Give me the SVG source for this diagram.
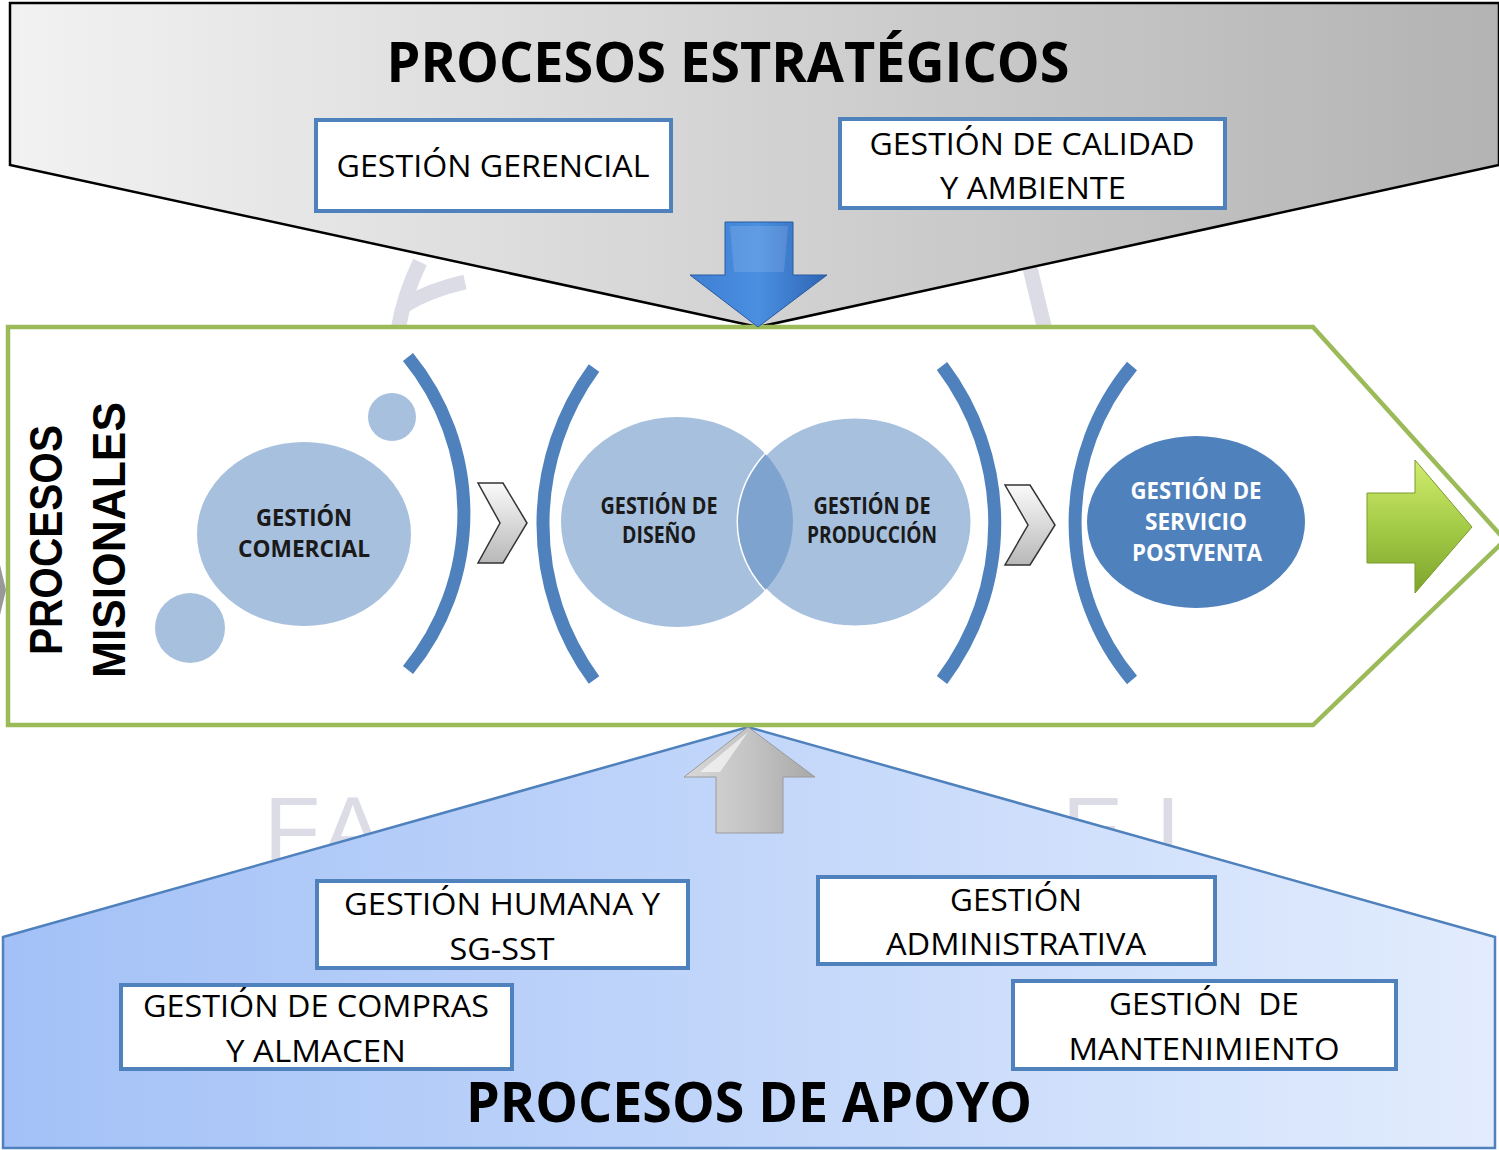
<svg xmlns="http://www.w3.org/2000/svg" width="1499" height="1150" viewBox="0 0 1499 1150">
<defs>
<linearGradient id="gTop" x1="0" y1="0" x2="1" y2="0"><stop offset="0" stop-color="#f2f2f2"/><stop offset="1" stop-color="#b3b3b3"/></linearGradient>
<linearGradient id="gBot" x1="0" y1="0" x2="1" y2="0"><stop offset="0" stop-color="#a3c1f7"/><stop offset="1" stop-color="#e2ecfd"/></linearGradient>
<linearGradient id="gBlue" x1="0" y1="0" x2="1" y2="0"><stop offset="0" stop-color="#3f7fd4"/><stop offset="0.5" stop-color="#4a8fe0"/><stop offset="1" stop-color="#2f65b5"/></linearGradient>
<linearGradient id="gGrey" x1="0" y1="0" x2="1" y2="0"><stop offset="0" stop-color="#d8d8d8"/><stop offset="0.5" stop-color="#c4c4c4"/><stop offset="1" stop-color="#a8a8a8"/></linearGradient>
<linearGradient id="gGreen" x1="0" y1="0" x2="0" y2="1"><stop offset="0" stop-color="#d2ec6e"/><stop offset="0.5" stop-color="#a4cc47"/><stop offset="1" stop-color="#7ea32c"/></linearGradient>
<linearGradient id="gChev" x1="0" y1="0" x2="0" y2="1"><stop offset="0" stop-color="#fafafa"/><stop offset="1" stop-color="#b8b8b8"/></linearGradient>
<clipPath id="clipDis"><ellipse cx="677" cy="522" rx="116" ry="105"/></clipPath>
</defs>
<style>
.box{fill:#fff;stroke:#4f81bd;stroke-width:4}
.bt{font-family:"Open Sans","Liberation Sans",sans-serif;font-size:31px;fill:#000;text-anchor:middle}
.title{font-family:"Open Sans","Liberation Sans",sans-serif;font-size:56px;font-weight:bold;fill:#000;text-anchor:middle}
.et{font-family:"Open Sans","Liberation Sans",sans-serif;font-size:23px;font-weight:bold;fill:#1a1a1a;text-anchor:middle}
.wt{fill:#fff}
.brk{fill:none;stroke:#4f81bd;stroke-width:13}
.chev{fill:url(#gChev);stroke:#333;stroke-width:1.5}
.wm{fill:none;stroke:#dcdce6;stroke-width:15}
.wl{font-family:"Liberation Sans",sans-serif;font-size:92px;fill:#dcdce6}
</style>
<rect width="1499" height="1150" fill="#fff"/>
<g id="watermark">
<path class="wm" d="M398,330 Q404,295 420,262"/>
<path class="wm" d="M405,305 Q430,290 465,282"/>
<path class="wm" d="M1045,330 L1030,268"/>
<text class="wl" x="264" y="862">F</text>
<text class="wl" x="322" y="862">A</text>
<text class="wl" x="1062" y="862">E</text>
<text class="wl" x="1156" y="862">L</text>
</g>
<g id="estrategicos">
<path d="M10,3 L1499,3 L1499,165 L758,327 L10,165 Z" fill="url(#gTop)" stroke="#000" stroke-width="2.5"/>
<text class="title" x="728" y="82" textLength="683" lengthAdjust="spacingAndGlyphs">PROCESOS ESTRATÉGICOS</text>
</g>
<g id="gerencial">
<rect class="box" x="316" y="120" width="355" height="91"/>
<text class="bt" x="493" y="177" textLength="313" lengthAdjust="spacingAndGlyphs">GESTIÓN GERENCIAL</text>
</g>
<g id="calidad">
<rect class="box" x="840" y="119" width="385" height="89"/>
<text class="bt" x="1032" y="155" textLength="325" lengthAdjust="spacingAndGlyphs">GESTIÓN DE CALIDAD</text>
<text class="bt" x="1033" y="199" textLength="186" lengthAdjust="spacingAndGlyphs">Y AMBIENTE</text>
</g>
<g id="apoyo">
<path d="M3,937 L748,727 L1495,937 L1495,1148 L3,1148 Z" fill="url(#gBot)" stroke="#4f81bd" stroke-width="2.5"/>
<text class="title" x="749" y="1122" textLength="566" lengthAdjust="spacingAndGlyphs">PROCESOS DE APOYO</text>
</g>
<g id="misionales">
<path d="M8,327 L1313,327 L1505,540 L1313,725 L8,725 Z" fill="#fff" stroke="#9bbb59" stroke-width="4.5"/>
<path d="M0,565 L6,590 L0,615 Z" fill="#999"/>
<text font-family="Liberation Sans,sans-serif" font-size="46" font-weight="bold" text-anchor="middle" transform="translate(62,540) rotate(-90)" textLength="230" lengthAdjust="spacingAndGlyphs">PROCESOS</text>
<text font-family="Liberation Sans,sans-serif" font-size="46" font-weight="bold" text-anchor="middle" transform="translate(125,540) rotate(-90)" textLength="276" lengthAdjust="spacingAndGlyphs">MISIONALES</text>
</g>
<g id="arrows">
<path d="M725,222 L793,222 L793,275 L827,275 L758,327 L690,275 L725,275 Z" fill="url(#gBlue)" stroke="#2a5a9e" stroke-width="1"/>
<path d="M730,226 L788,226 L784,272 L734,272 Z" fill="#fff" opacity="0.12"/>
<path d="M748,727 L815,777 L783,777 L783,833 L716,833 L716,777 L684,777 Z" fill="url(#gGrey)" stroke="#9a9a9a" stroke-width="1"/>
<path d="M748,732 L700,772 L720,772 Z" fill="#fff" opacity="0.6"/>
<path d="M1367,493 L1415,493 L1415,460 L1472,527 L1415,593 L1415,563 L1367,563 Z" fill="url(#gGreen)" stroke="#7a9a2e" stroke-width="1"/>
<path class="chev" d="M478,483 L503,483 L527,523 L503,563 L478,563 L500,523 Z"/>
<path class="chev" d="M1005,485 L1030,485 L1055,525 L1030,565 L1005,565 L1028,525 Z"/>
</g>
<g id="comercial">
<circle cx="392" cy="417" r="24" fill="#a7c0de"/>
<circle cx="190" cy="628" r="35" fill="#a7c0de"/>
<ellipse cx="304" cy="534" rx="107" ry="92" fill="#a7c0de"/>
<text class="et" x="304" y="526" textLength="96" lengthAdjust="spacingAndGlyphs">GESTIÓN</text>
<text class="et" x="304" y="557" textLength="132" lengthAdjust="spacingAndGlyphs">COMERCIAL</text>
</g>
<g id="brackets">
<path class="brk" d="M408,357 A247 247 0 0 1 408,670"/>
<path class="brk" d="M594,368 A264 264 0 0 0 594,680"/>
<path class="brk" d="M942,366 A260 260 0 0 1 942,680"/>
<path class="brk" d="M1132,366 A245 245 0 0 0 1132,680"/>
</g>
<g id="diseno">
<ellipse cx="677" cy="522" rx="116" ry="105" fill="#a7c0de"/>
</g>
<g id="produccion">
<ellipse cx="855" cy="522" rx="117" ry="105" fill="#a7c0de" stroke="#fff" stroke-width="3"/>
<ellipse cx="855" cy="522" rx="117" ry="105" fill="#7ea3cf" clip-path="url(#clipDis)"/>
<text class="et" x="659" y="514" textLength="117" lengthAdjust="spacingAndGlyphs">GESTIÓN DE</text>
<text class="et" x="659" y="543" textLength="74" lengthAdjust="spacingAndGlyphs">DISEÑO</text>
<text class="et" x="872" y="514" textLength="117" lengthAdjust="spacingAndGlyphs">GESTIÓN DE</text>
<text class="et" x="872" y="543" textLength="130" lengthAdjust="spacingAndGlyphs">PRODUCCIÓN</text>
</g>
<g id="postventa">
<ellipse cx="1196" cy="522" rx="109" ry="86" fill="#4f81bd"/>
<text class="et wt" x="1196" y="499" style="fill:#fff" textLength="131" lengthAdjust="spacingAndGlyphs">GESTIÓN DE</text>
<text class="et wt" x="1196" y="530" style="fill:#fff" textLength="102" lengthAdjust="spacingAndGlyphs">SERVICIO</text>
<text class="et wt" x="1197" y="561" style="fill:#fff" textLength="130" lengthAdjust="spacingAndGlyphs">POSTVENTA</text>
</g>
<g id="humana">
<rect class="box" x="317" y="881" width="371" height="87"/>
<text class="bt" x="502" y="915" textLength="316" lengthAdjust="spacingAndGlyphs">GESTIÓN HUMANA Y</text>
<text class="bt" x="502" y="960" textLength="105" lengthAdjust="spacingAndGlyphs">SG-SST</text>
</g>
<g id="compras">
<rect class="box" x="121" y="985" width="391" height="84"/>
<text class="bt" x="316" y="1017" textLength="346" lengthAdjust="spacingAndGlyphs">GESTIÓN DE COMPRAS</text>
<text class="bt" x="316" y="1062" textLength="180" lengthAdjust="spacingAndGlyphs">Y ALMACEN</text>
</g>
<g id="administrativa">
<rect class="box" x="818" y="877" width="397" height="87"/>
<text class="bt" x="1016" y="911" textLength="132" lengthAdjust="spacingAndGlyphs">GESTIÓN</text>
<text class="bt" x="1016" y="955" textLength="260" lengthAdjust="spacingAndGlyphs">ADMINISTRATIVA</text>
</g>
<g id="mantenimiento">
<rect class="box" x="1013" y="981" width="383" height="88"/>
<text class="bt" x="1204" y="1015" textLength="190" lengthAdjust="spacingAndGlyphs" xml:space="preserve" style="white-space:pre">GESTIÓN  DE</text>
<text class="bt" x="1204" y="1060" textLength="271" lengthAdjust="spacingAndGlyphs">MANTENIMIENTO</text>
</g>
</svg>
